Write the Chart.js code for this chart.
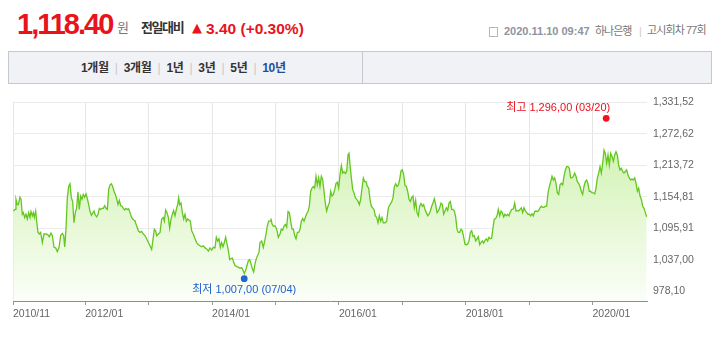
<!DOCTYPE html>
<html><head><meta charset="utf-8">
<script src="https://cdn.jsdelivr.net/npm/chart.js@4/dist/chart.umd.min.js"></script>
<style>
body{margin:0;width:719px;height:337px;background:#fff;position:relative;overflow:hidden;font-family:"Liberation Sans","Noto Sans CJK KR",sans-serif}
.a{position:absolute;white-space:nowrap}
.kr{font-family:"Noto Sans CJK KR",sans-serif}
#tabs{position:absolute;left:8px;top:51px;width:702px;height:31px;background:#f1f2f6;border:1px solid #c5c8d0}
#tabdiv{position:absolute;left:362px;top:52px;width:1px;height:31px;background:#c5c8d0}
#tabtext{position:absolute;left:81px;top:61px;font:bold 12px/14px "Liberation Sans","Noto Sans CJK KR",sans-serif;color:#333;letter-spacing:-0.3px;white-space:nowrap}
#tabtext .sep{color:#c8c8c8;font-weight:normal;margin:0 6px}
#tabtext .on{color:#1f4e9c}
#c{position:absolute;left:0;top:90px}
</style></head><body>
<div class="a" style="left:17px;top:10px;font:bold 29px/29px 'Liberation Sans',sans-serif;letter-spacing:-2px;color:#e8141c">1,118.40</div>
<div class="a kr" style="left:117px;top:20px;font-size:13px;line-height:13px;color:#777">원</div>
<div class="a kr" style="left:141px;top:20px;font-size:13px;line-height:13px;font-weight:bold;color:#333;letter-spacing:-1.4px">전일대비</div>
<div class="a" style="left:192px;top:21px;font:13px/13px 'DejaVu Sans',sans-serif;color:#e8141c">▲</div>
<div class="a" style="left:206px;top:21px;font:bold 15.5px/15.5px 'Liberation Sans',sans-serif;color:#e8141c">3.40 (+0.30%)</div>
<div class="a" style="left:489px;top:27px;width:7px;height:8px;border:1px solid #b5b8be"></div>
<div class="a" style="left:504px;top:26px;font:bold 11px/11px 'Liberation Sans',sans-serif;color:#8f959e">2020.11.10 09:47</div>
<div class="a kr" style="left:595px;top:25px;font-size:11px;line-height:11px;color:#777;letter-spacing:-1px">하나은행</div>
<div class="a" style="left:639px;top:26px;font:11px/11px 'Liberation Sans',sans-serif;color:#ccc">|</div>
<div class="a" style="left:647px;top:25px;font:11px/11px 'Liberation Sans','Noto Sans CJK KR',sans-serif;color:#777;letter-spacing:-0.9px">고시회차 77회</div>
<div id="tabs"></div><div id="tabdiv"></div>
<div id="tabtext">1개월<span class="sep">|</span>3개월<span class="sep">|</span>1년<span class="sep">|</span>3년<span class="sep">|</span>5년<span class="sep">|</span><span class="on">10년</span></div>
<canvas id="c" width="719" height="247" style="width:719px;height:247px"></canvas>
<script>
// Dates as decimal years (2010/11 .. 2020/11)
const dates = [
2010.865,2010.892,2010.907,2010.928,2010.944,2010.970,2010.986,2011.007,2011.023,2011.044,2011.065,2011.086,2011.107,2011.128,2011.144,2011.165,2011.181,2011.197,2011.218,2011.233,
2011.254,2011.275,2011.296,2011.323,2011.349,2011.381,2011.407,2011.433,2011.459,2011.480,2011.507,2011.533,2011.559,2011.586,2011.612,2011.638,2011.659,2011.675,2011.696,2011.717,
2011.738,2011.759,2011.780,2011.801,2011.822,2011.843,2011.864,2011.885,2011.906,2011.927,2011.948,2011.969,2011.991,2012.012,2012.033,2012.054,2012.075,2012.096,2012.117,2012.138,
2012.159,2012.180,2012.201,2012.222,2012.243,2012.264,2012.285,2012.306,2012.327,2012.348,2012.369,2012.390,2012.411,2012.432,2012.453,2012.474,2012.495,2012.516,2012.537,2012.558,
2012.579,2012.600,2012.621,2012.642,2012.664,2012.685,2012.706,2012.727,2012.748,2012.769,
2012.784,2012.811,2012.837,2012.863,2012.889,2012.916,2012.942,2012.968,2012.995,2013.021,2013.047,2013.073,2013.089,2013.110,2013.126,2013.152,2013.179,2013.205,2013.231,2013.247,
2013.268,2013.289,2013.310,2013.331,2013.352,2013.373,2013.394,2013.415,2013.442,2013.457,2013.473,2013.489,2013.510,2013.531,2013.552,2013.573,2013.594,2013.615,2013.636,2013.657,
2013.678,2013.704,2013.731,2013.757,2013.783,2013.810,2013.836,2013.862,2013.888,2013.915,2013.941,2013.967,2013.994,2014.020,2014.046,2014.067,2014.088,2014.109,2014.130,2014.151,
2014.172,2014.193,2014.214,2014.236,2014.257,2014.278,2014.299,2014.320,2014.341,2014.362,2014.388,2014.414,2014.441,2014.467,2014.488,2014.509,2014.530,2014.551,2014.572,2014.593,
2014.614,2014.635,2014.656,2014.677,2014.698,2014.719,2014.740,
2014.756,2014.782,2014.808,2014.830,2014.851,2014.872,2014.893,2014.914,2014.929,2014.945,2014.966,2014.993,2015.019,2015.045,2015.071,2015.092,2015.113,2015.134,2015.156,2015.177,
2015.198,2015.219,2015.240,2015.261,2015.282,2015.303,2015.324,2015.345,2015.366,2015.387,2015.408,2015.429,2015.450,2015.471,2015.492,2015.513,2015.534,2015.555,2015.576,2015.597,
2015.618,2015.639,2015.660,2015.681,2015.702,2015.723,2015.744,2015.765,2015.786,2015.807,2015.828,2015.849,2015.871,2015.892,2015.913,2015.934,2015.955,2015.976,2015.997,2016.018,
2016.039,2016.060,2016.081,2016.102,2016.123,2016.144,2016.160,2016.176,2016.197,2016.218,2016.239,2016.260,2016.281,2016.302,2016.323,2016.344,2016.365,2016.386,2016.407,2016.428,
2016.449,2016.470,2016.491,2016.512,2016.533,2016.554,2016.575,2016.596,2016.617,2016.638,2016.659,2016.680,2016.701,
2016.728,2016.754,2016.780,2016.806,2016.833,2016.854,2016.875,2016.896,2016.917,2016.938,2016.959,2016.980,2017.001,2017.022,2017.043,2017.064,2017.085,2017.106,2017.127,2017.148,
2017.169,2017.190,2017.211,2017.232,2017.253,2017.274,2017.295,2017.316,2017.337,2017.358,2017.380,2017.401,2017.422,2017.443,2017.464,2017.485,2017.506,2017.527,2017.548,2017.569,
2017.590,2017.611,2017.632,2017.653,2017.674,2017.695,2017.716,2017.737,2017.758,2017.779,2017.800,2017.821,2017.842,2017.863,2017.884,2017.905,2017.926,2017.947,2017.968,2017.989,
2018.010,2018.031,2018.052,2018.074,2018.095,2018.116,2018.137,2018.158,2018.179,2018.200,2018.221,2018.242,2018.263,2018.284,2018.305,2018.326,2018.347,2018.368,2018.389,2018.410,
2018.431,2018.452,2018.473,2018.494,2018.515,2018.536,2018.557,2018.578,2018.599,2018.620,2018.641,2018.662,2018.683,
2018.699,2018.725,2018.752,2018.773,2018.794,2018.815,2018.836,2018.857,2018.878,2018.899,2018.920,2018.941,2018.962,2018.983,2019.004,2019.025,2019.046,2019.067,2019.088,2019.109,
2019.130,2019.151,2019.172,2019.193,2019.214,2019.235,2019.256,2019.277,2019.299,2019.320,2019.341,2019.362,2019.383,2019.404,2019.425,2019.446,2019.467,2019.488,2019.509,2019.530,
2019.551,2019.572,2019.593,2019.614,2019.635,2019.656,2019.677,2019.698,2019.719,2019.740,2019.761,2019.782,2019.803,2019.824,2019.845,2019.866,2019.887,2019.908,2019.929,2019.950,
2019.971,2019.993,2020.014,2020.035,2020.056,2020.077,2020.098,2020.119,2020.140,2020.161,2020.182,2020.203,2020.224,2020.245,2020.266,2020.287,2020.308,2020.329,2020.350,2020.371,
2020.392,2020.413,2020.434,2020.455,2020.476,2020.497,2020.518,2020.539,2020.560,2020.581,2020.602,2020.623,2020.644,2020.666,2020.687,2020.708,2020.729,2020.750,2020.771,2020.792,
2020.813,2020.834,2020.855
];
// KRW per USD
const rates = [
1128,1131,1150,1140,1140,1154,1150,1122,1125,1116,1122,1113,1125,1116,1127,1119,1125,1116,1128,1109,
1088,1085,1088,1069,1085,1085,1084,1080,1087,1082,1060,1059,1052,1060,1082,1086,1082,1061,1094,1153,
1174,1179,1153,1146,1106,1125,1134,1164,1131,1156,1150,1159,1154,1160,1151,1140,1127,1120,1124,1128,
1120,1117,1122,1133,1131,1133,1133,1138,1133,1131,1168,1177,1179,1174,1165,1159,1151,1140,1148,1138,
1137,1133,1130,1133,1131,1132,1125,1117,1113,1111,
1109,1100,1091,1088,1090,1085,1082,1076,1069,1063,1056,1079,1094,1091,1082,1085,1088,1113,1116,1109,
1130,1125,1116,1096,1113,1122,1129,1119,1134,1140,1153,1140,1143,1125,1113,1122,1109,1113,1111,1109,
1091,1085,1076,1069,1065,1063,1061,1063,1059,1057,1053,1059,1055,1060,1059,1079,1072,1076,1060,1069,
1061,1069,1079,1066,1054,1037,1039,1040,1032,1026,1024,1023,1021,1022,1017,1011,1017,1026,1035,1037,
1029,1020,1014,1029,1039,1045,1051,
1069,1072,1060,1072,1085,1100,1109,1109,1114,1104,1100,1100,1094,1079,1085,1094,1092,1100,1103,1098,
1127,1125,1109,1094,1094,1082,1076,1088,1088,1094,1109,1114,1109,1116,1123,1127,1137,1165,1171,1174,
1171,1193,1177,1190,1174,1193,1187,1165,1143,1128,1137,1143,1165,1156,1159,1168,1180,1182,1171,1196,
1213,1199,1202,1198,1202,1233,1236,1214,1190,1168,1162,1153,1150,1146,1140,1150,1171,1190,1183,1183,
1174,1171,1150,1137,1134,1131,1119,1116,1106,1119,1109,1116,1106,
1106,1109,1134,1140,1145,1153,1174,1179,1174,1177,1187,1203,1205,1196,1176,1174,1165,1150,1146,1153,
1156,1134,1148,1125,1119,1137,1142,1137,1140,1131,1125,1119,1122,1128,1137,1143,1151,1140,1125,1128,
1134,1143,1140,1122,1128,1134,1129,1143,1146,1131,1131,1128,1117,1094,1088,1088,1094,1091,1079,1066,
1065,1066,1072,1088,1091,1080,1082,1072,1076,1080,1065,1069,1072,1068,1073,1076,1072,1079,1076,1077,
1097,1113,1114,1119,1131,1119,1128,1125,1117,1122,1119,1122,1119,
1125,1131,1132,1143,1128,1129,1128,1131,1134,1125,1134,1128,1125,1122,1122,1119,1123,1119,1127,1128,
1127,1129,1134,1137,1135,1135,1137,1137,1162,1174,1183,1193,1186,1190,1180,1162,1159,1177,1180,1177,
1193,1205,1211,1211,1208,1190,1190,1193,1199,1193,1183,1180,1174,1165,1159,1174,1183,1186,1179,1165,
1165,1162,1162,1160,1171,1190,1199,1211,1199,1217,1242,1236,1217,1233,1214,1236,1230,1221,1233,1239,
1233,1214,1205,1208,1202,1199,1202,1205,1196,1190,1186,1188,1186,1190,1180,1165,1171,1156,1150,1137,
1133,1125,1117
];
const xMin = 2010.86, xMax = 2020.86;
const xTickValues = [2010.86, 2012, 2013, 2014, 2015, 2016, 2017, 2018, 2019, 2020];
const xTickLabels = ['2010/11', '2012/01', '', '2014/01', '', '2016/01', '', '2018/01', '', '2020/01'];
const yMin = 959.6, yMax = 1331.52;
const yTickValues = [978.10, 1037.00, 1095.91, 1154.81, 1213.72, 1272.62, 1331.52];
const yTickLabels = ['978,10', '1,037,00', '1,095,91', '1,154,81', '1,213,72', '1,272,62', '1,331,52'];
// Period high / low markers
const extremeDates = [2020.216, 2014.507];
const extremeValues = [1296.00, 1007.00];
const extremeLabels = ['최고 1,296,00 (03/20)', '최저 1,007,00 (07/04)'];
const extremeColors = ['#f0101e', '#1f66d6'];
const extremeTextColors = ['#e8101c', '#1f5fd0'];

const FONT = '"Liberation Sans","Noto Sans CJK KR",sans-serif';

const extremesPlugin = {
  id: 'extremes',
  afterDatasetsDraw(chart) {
    const {ctx, scales: {x, y}} = chart;
    ctx.save();
    extremeDates.forEach((d, i) => {
      const px = x.getPixelForValue(d);
      const high = i === 0;
      const py = y.getPixelForValue(extremeValues[i]) + (high ? -3 : 3);
      ctx.fillStyle = extremeColors[i];
      ctx.beginPath(); ctx.arc(px, py, 3.4, 0, Math.PI * 2); ctx.fill();
      ctx.fillStyle = extremeTextColors[i];
      ctx.font = '11px ' + FONT;
      ctx.textBaseline = 'middle';
      if (high) { ctx.textAlign = 'right'; ctx.fillText(extremeLabels[i], px + 4, py - 10); }
      else { ctx.textAlign = 'center'; ctx.fillText(extremeLabels[i], px, py + 11); }
    });
    ctx.restore();
  }
};

new Chart(document.getElementById('c'), {
  type: 'line',
  data: {
    datasets: [{
      data: dates.map((d, i) => ({x: d, y: rates[i]})),
      borderColor: '#64c71f',
      borderWidth: 1.3,
      pointRadius: 0,
      tension: 0,
      fill: 'start',
      backgroundColor: (c) => {
        const a = c.chart.chartArea;
        if (!a) return 'rgba(0,0,0,0)';
        const g = c.chart.ctx.createLinearGradient(0, a.top, 0, a.bottom);
        g.addColorStop(0, '#c6efa0');
        g.addColorStop(1, '#fbfef8');
        return g;
      }
    }]
  },
  options: {
    responsive: false,
    animation: false,
    layout: {padding: {left: 13, top: 10, right: 0, bottom: 0}},
    plugins: {legend: {display: false}, tooltip: {enabled: false}},
    scales: {
      x: {
        type: 'linear', min: xMin, max: xMax,
        afterBuildTicks(s) { s.ticks = xTickValues.map(v => ({value: v})); },
        afterFit(s) { s.height = 36; },
        grid: {color: '#e6e6e6', tickColor: '#9a9a9a', tickLength: 4},
        border: {color: '#8c8c8c', width: 1},
        ticks: {align: 'start', autoSkip: false, maxRotation: 0, padding: 3, color: '#666',
          font: {family: FONT, size: 10.5}, callback: (v, i) => xTickLabels[i]}
      },
      y: {
        position: 'right', min: yMin, max: yMax,
        afterBuildTicks(s) { s.ticks = yTickValues.map(v => ({value: v})); },
        afterFit(s) { s.width = 72; },
        grid: {color: '#ebebeb', drawTicks: false},
        border: {display: false},
        ticks: {padding: 6, color: '#666', font: {family: FONT, size: 10.5},
          callback: (v, i) => yTickLabels[i]}
      }
    }
  },
  plugins: [extremesPlugin]
});
</script>
</body></html>
